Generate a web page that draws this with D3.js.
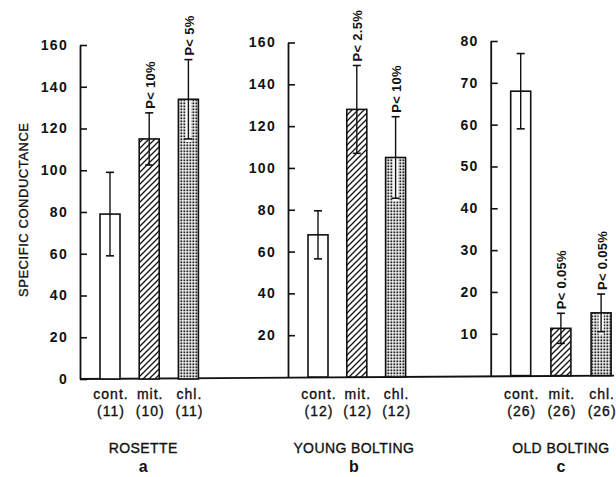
<!DOCTYPE html>
<html><head><meta charset="utf-8">
<script src="https://cdn.jsdelivr.net/npm/d3@7"></script>
<style>
body{margin:0;background:#fff;}
text{font-family:"Liberation Sans",Arial,Helvetica,sans-serif;fill:#111;}
.med{stroke:#111;stroke-width:0.35px;}
</style></head>
<body><svg id="c" width="616" height="477"></svg>
<script>
// ---- data ----
const categories = ["cont.", "mit.", "chl."];
const groups = ["ROSETTE", "YOUNG BOLTING", "OLD BOLTING"];
const panelLetters = ["a", "b", "c"];
const rosetteMeans = [79, 115, 134];
const rosetteErr = [20, 12.5, 19];
const youngMeans = [68, 128, 105];
const youngErr = [11.5, 21, 19.5];
const oldMeans = [68, 11.3, 15];
const oldErr = [9, 3.6, 4.5];
const rosetteN = ["(11)", "(10)", "(11)"];
const youngN = ["(12)", "(12)", "(12)"];
const oldN = ["(26)", "(26)", "(26)"];
const rosetteP = [null, "P< 10%", "P< 5%"];
const youngP = [null, "P< 2.5%", "P< 10%"];
const oldP = [null, "P< 0.05%", "P< 0.05%"];
const rosetteTicks = [0, 20, 40, 60, 80, 100, 120, 140, 160];
const youngTicks = [20, 40, 60, 80, 100, 120, 140, 160];
const oldTicks = [10, 20, 30, 40, 50, 60, 70, 80];
const yTitle = "SPECIFIC  CONDUCTANCE";

const svg = d3.select("#c");
const defs = svg.append("defs");
// hatch pattern
const hp = defs.append("pattern").attr("id","hatch").attr("patternUnits","userSpaceOnUse")
  .attr("width",6).attr("height",6);
hp.append("rect").attr("width",6).attr("height",6).attr("fill","#fff");
hp.append("path").attr("d","M-1,7 L7,-1 M-4,4 L4,-4 M2,10 L10,2").attr("stroke","#111").attr("stroke-width",1.3);
// stipple pattern
const sp = defs.append("pattern").attr("id","dots").attr("patternUnits","userSpaceOnUse")
  .attr("width",3).attr("height",3);
sp.append("rect").attr("width",3).attr("height",3).attr("fill","#fff");
sp.append("rect").attr("x",0.4).attr("y",0.4).attr("width",1.9).attr("height",1.9).attr("fill","#222");
const fills = ["#fff", "url(#hatch)", "url(#dots)"];

const panels = [
  {means: rosetteMeans, err: rosetteErr, n: rosetteN, p: rosetteP, ticks: rosetteTicks, max:160,
   ax: 80, base: 379, top: 45, step: 39.2},
  {means: youngMeans, err: youngErr, n: youngN, p: youngP, ticks: youngTicks, max:160,
   ax: 288, base: 377, top: 42.5, step: 38.8},
  {means: oldMeans, err: oldErr, n: oldN, p: oldP, ticks: oldTicks, max:80,
   ax: 490.7, base: 375.6, top: 41, step: 40.2}
];

// baseline across all panels
svg.append("line").attr("x1",80).attr("y1",379).attr("x2",614).attr("y2",375.6)
  .attr("stroke","#111").attr("stroke-width",1.8);

panels.forEach((P, i) => {
  const y = d3.scaleLinear().domain([0, P.max]).range([P.base, P.top]);
  const bw = 20;
  const pin = 1 - bw / P.step;
  const x = d3.scaleBand().domain(categories)
    .range([P.ax + 20, P.ax + 20 + P.step * (3 - pin)]).paddingInner(pin).paddingOuter(0);

  const axis = d3.axisLeft(y).tickValues(P.ticks).tickSizeInner(-7).tickSizeOuter(0).tickPadding(12)
    .tickFormat(d3.format("d"));
  const g = svg.append("g").attr("transform",`translate(${P.ax},0)`).call(axis);
  g.select(".domain").attr("stroke","#111").attr("stroke-width",1.8);
  g.selectAll(".tick line").attr("stroke","#111").attr("stroke-width",1.6);
  g.selectAll(".tick text").attr("font-size",14).attr("font-weight","bold").attr("letter-spacing","1.3px")
    .attr("fill","#111").attr("font-family","Liberation Sans, Arial, sans-serif");

  const bars = svg.append("g");
  categories.forEach((c, j) => {
    const v = P.means[j], e = P.err[j];
    const cx = x(c) + bw / 2;
    bars.append("rect").attr("x", x(c)).attr("y", y(v)).attr("width", bw).attr("height", y(0) - y(v))
      .attr("fill", fills[j]).attr("stroke","#111").attr("stroke-width",1.6);
    if (j === 2) {
      bars.append("rect").attr("x", cx - 2.5).attr("y", y(v) + 1).attr("width", 5)
        .attr("height", Math.max(0, y(v - e) - y(v) + 2)).attr("fill","#fff");
    }
    bars.append("line").attr("x1",cx).attr("x2",cx).attr("y1",y(v+e)).attr("y2",y(v-e))
      .attr("stroke","#111").attr("stroke-width",1.4);
    [v+e, v-e].forEach(t => bars.append("line").attr("x1",cx-4).attr("x2",cx+4)
      .attr("y1",y(t)).attr("y2",y(t)).attr("stroke","#111").attr("stroke-width",1.6));
    if (P.p[j]) {
      svg.append("text").attr("transform",`translate(${cx+1},${y(v+e)-4}) rotate(-90)`)
        .attr("dominant-baseline","central").attr("font-size",13).attr("font-weight","bold")
        .attr("letter-spacing","0.3px").text(P.p[j]);
    }
    svg.append("text").attr("class","med").attr("x", cx + 1).attr("y", 399).attr("text-anchor","middle")
      .attr("font-size",14).attr("letter-spacing","1px").text(c);
    svg.append("text").attr("class","med").attr("x", cx + 1).attr("y", 416).attr("text-anchor","middle")
      .attr("font-size",14).attr("letter-spacing","1px").text(P.n[j]);
  });
  const mid = (x(categories[0]) + x(categories[2]) + bw) / 2;
  svg.append("text").attr("class","med").attr("x", mid - (i===0?6:i===1?3:0)).attr("y", 453).attr("text-anchor","middle")
    .attr("font-size",14).attr("letter-spacing","0.4px").text(groups[i]);
  svg.append("text").attr("x", mid - (i===0?6:i===1?3:0)).attr("y", 472).attr("text-anchor","middle")
    .attr("font-size",16).attr("font-weight","bold").text(panelLetters[i]);
});

svg.append("text").attr("class","med").attr("transform","translate(23,210) rotate(-90)").attr("text-anchor","middle")
  .attr("dominant-baseline","central").attr("font-size",13)
  .attr("textLength",174).attr("lengthAdjust","spacing").text(yTitle);
</script></body></html>
